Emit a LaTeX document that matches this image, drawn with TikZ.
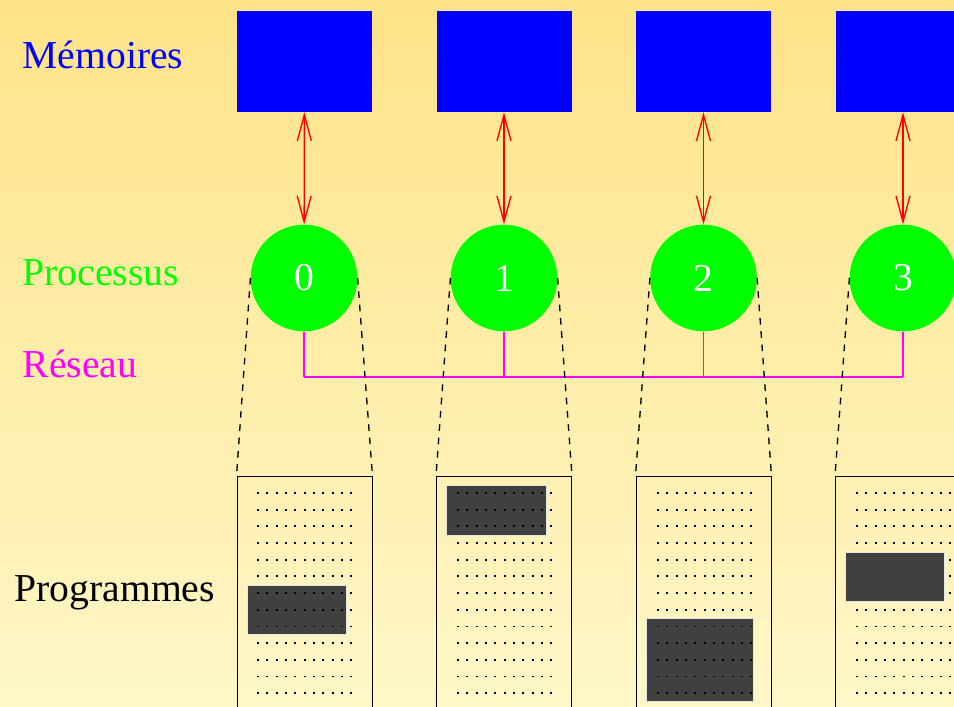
\documentclass[tikz,border=0pt]{standalone}
\usepackage{fontspec}
\setmainfont{Liberation Serif}
\usepackage{xcolor}
\usepackage{tikz}
\usetikzlibrary{arrows.meta}
\definecolor{fondhaut}{RGB}{255,227,137}
\definecolor{fondbas}{RGB}{255,247,200}
\definecolor{bloc}{RGB}{64,64,64}
\definecolor{bleu}{RGB}{0,0,255}
\definecolor{vert}{RGB}{0,255,0}
\definecolor{rose}{RGB}{255,0,255}
\definecolor{rouge}{RGB}{255,0,0}

\begin{document}
\begin{tikzpicture}[x=0.75pt, y=-0.75pt,
        memoire/.style={rectangle, fill=bleu, minimum width=101.25pt, minimum height=75.75pt, inner sep=0pt},
        processus/.style={circle, fill=vert, minimum size=80pt, inner sep=0pt, text=white, font=\fontsize{29.7}{35}\selectfont},
        programme/.style={rectangle, draw=black, line width=0.7pt, minimum width=101.25pt, minimum height=225pt, inner sep=0pt},
        lien/.style={rouge, line width=1pt, <->, >={Straight Barb[length=19.5pt, width=10.5pt]}},
        reseau/.style={rose, line width=1pt},
        cone/.style={black, line width=1pt, dash pattern=on 5pt off 5pt},
        ligne/.style={black, line width=1.3pt, dash pattern=on 1.5pt off 5.5pt},
        blocnoir/.style={fill=bloc, draw=black!10, line width=0.6pt},
        titre/.style={anchor=base west, font=\fontsize{29.7}{35}\selectfont}]
        \useasboundingbox (0, 0) rectangle (954, 707);
        \clip (0, 0) rectangle (954, 707);
        \fill [top color=fondhaut, bottom color=fondbas] (0, 0) rectangle (954, 707);
        % labels
        \node (memoires) at (18, 68) [titre, text=bleu] {Mémoires};
        \node (proc) at (18, 285) [titre, text=vert] {Processus};
        \node (res) at (18, 377) [titre, text=rose] {Réseau};
        \node (progs) at (10, 601) [titre, text=black] {Programmes};
        % memoires
        \node (m0) at (304.5, 61.5) [memoire] {};
        \node (m1) at (504, 61.5) [memoire] {};
        \node (m2) at (703.5, 61.5) [memoire] {};
        \node (m3) at (903, 61.5) [memoire] {};
        % processus
        \node (p0) at (304, 278) [processus] {0};
        \node (p1) at (504, 278) [processus] {1};
        \node (p2) at (703.5, 278) [processus] {2};
        \node (p3) at (903, 278) [processus] {3};
        % programmes
        \node (g0) at (304.5, 626) [programme] {};
        \node (g1) at (504, 626) [programme] {};
        \node (g2) at (703.5, 626) [programme] {};
        \node (g3) at (903, 626) [programme] {};
        \draw [blocnoir] (247, 585) rectangle (346, 634);
        \draw [blocnoir] (446, 485) rectangle (546, 535);
        \draw [blocnoir] (646, 618) rectangle (753, 701);
        \foreach \x in {237, 437, 637, 836}
            \foreach \k in {0,...,12}
                \draw [ligne] (\x+20, 493+16.67*\k) -- ++(95, 0);
        \draw [blocnoir] (845, 552) rectangle (944, 601);
        % liens memoire-processus
        \draw [lien] (m0) -- (p0);
        \draw [lien] (m1) -- (p1);
        \draw [lien] (m2) -- (p2);
        \draw [lien] (m3) -- (p3);
        % reseau
        \coordinate (r0) at (304, 377);
        \coordinate (r1) at (504, 377);
        \coordinate (r2) at (703.5, 377);
        \coordinate (r3) at (903, 377);
        \draw [reseau] (p0.south) -- (r0);
        \draw [reseau] (p1.south) -- (r1);
        \draw [reseau] (p2.south) -- (r2);
        \draw [reseau] (p3.south) -- (r3);
        \draw [reseau] (r0) -- (r3);
        % cones
        \draw [cone] (p0.west) -- (g0.north west);
        \draw [cone] (p0.east) -- (g0.north east);
        \draw [cone] (p1.west) -- (g1.north west);
        \draw [cone] (p1.east) -- (g1.north east);
        \draw [cone] (p2.west) -- (g2.north west);
        \draw [cone] (p2.east) -- (g2.north east);
        \draw [cone] (p3.west) -- (g3.north west);
        \draw [cone] (p3.east) -- (g3.north east);
    \end{tikzpicture}
\end{document}
